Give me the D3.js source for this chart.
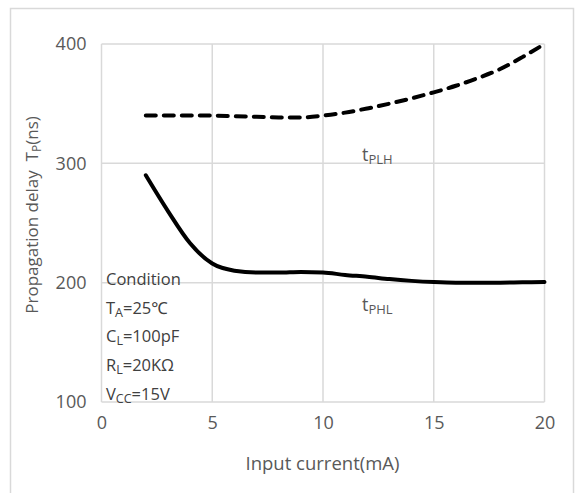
<!DOCTYPE html>
<html>
<head>
<meta charset="utf-8">
<script src="https://cdn.jsdelivr.net/npm/d3@7"></script>
<style>
  html, body { margin: 0; padding: 0; background: #fff; }
  svg { display: block; font-family: "Open Sans", "Noto Sans", sans-serif; }
</style>
</head>
<body>
<svg id="chart" width="575" height="493"></svg>
<script>
// ---- data ----
const xTicks = [0, 5, 10, 15, 20];
const yTicks = [100, 200, 300, 400];
const current = [2, 3, 4, 5, 6, 7, 8, 9, 10, 11, 12, 13, 14, 15, 16, 17, 18, 19, 20];
const tPLH = [340, 340, 340, 340, 339.5, 339, 338.5, 338.5, 340, 342.5, 346, 350, 354.5, 359.5, 365, 371.5, 379, 389, 400];
const tPHL = [290, 260, 233, 216, 210, 208.5, 208.5, 209, 208.5, 206.5, 205, 203, 201.5, 200.5, 200, 200, 200, 200.3, 200.5];
const conditionLines = [
  [["Condition", false]],
  [["T", false], ["A", true], ["=25℃", false]],
  [["C", false], ["L", true], ["=100pF", false]],
  [["R", false], ["L", true], ["=20KΩ", false]],
  [["V", false], ["CC", true], ["=15V", false]]
];

const svg = d3.select("#chart");
const x = d3.scaleLinear().domain([0, 20]).range([101.5, 544.5]);
const y = d3.scaleLinear().domain([100, 400]).range([402, 44]);

// outer border
svg.append("rect").attr("x", 10.5).attr("y", 8.5).attr("width", 563).attr("height", 500)
  .attr("fill", "none").attr("stroke", "#d9d9d9").attr("stroke-width", 1.5);

// gridlines
const grid = svg.append("g").attr("stroke", "#d9d9d9").attr("stroke-width", 1.5);
grid.selectAll("line.v").data(xTicks).join("line").attr("class", "v")
  .attr("x1", d => x(d)).attr("x2", d => x(d)).attr("y1", y(100)).attr("y2", y(400));
grid.selectAll("line.h").data(yTicks).join("line").attr("class", "h")
  .attr("y1", d => y(d)).attr("y2", d => y(d)).attr("x1", x(0)).attr("x2", x(20));

// axes (labels only)
const xAxis = svg.append("g").attr("transform", `translate(0,${y(100)})`)
  .call(d3.axisBottom(x).tickValues(xTicks).tickSize(0).tickPadding(14));
const yAxis = svg.append("g").attr("transform", `translate(${x(0)},0)`)
  .call(d3.axisLeft(y).tickValues(yTicks).tickSize(0).tickPadding(15));
[xAxis, yAxis].forEach(a => {
  a.select(".domain").remove();
  a.selectAll("text").attr("fill", "#595959").style("font-size", "18px")
    .style("font-family", "'Open Sans', 'Noto Sans', sans-serif");
});

// lines
const line = d3.line().x(d => x(d[0])).y(d => y(d[1])).curve(d3.curveMonotoneX);
svg.append("path").datum(current.map((c, i) => [c, tPLH[i]]))
  .attr("d", line).attr("fill", "none").attr("stroke", "#000").attr("stroke-width", 4)
  .attr("stroke-dasharray", "10,8").attr("stroke-linecap", "round");
svg.append("path").datum(current.map((c, i) => [c, tPHL[i]]))
  .attr("d", line).attr("fill", "none").attr("stroke", "#000").attr("stroke-width", 4)
  .attr("stroke-linecap", "round");

// helper for text with subscripts
function richText(g, parts, sizeMain, sizeSub) {
  parts.forEach(([t, sub]) => {
    const ts = g.append("tspan").text(t).style("font-size", (sub ? sizeSub : sizeMain) + "px");
    if (sub) ts.attr("baseline-shift", "-25%");
  });
}

// axis titles
const yt = svg.append("text").attr("transform", "translate(38,215) rotate(-90)")
  .attr("text-anchor", "middle").attr("fill", "#595959");
richText(yt, [["Propagation delay\u00a0\u00a0T", false], ["P", true], ["(ns)", false]], 17, 12);

svg.append("text").attr("x", 322.5).attr("y", 470).attr("text-anchor", "middle")
  .attr("fill", "#595959").style("font-size", "18.5px").text("Input current(mA)");

// series labels
const l1 = svg.append("text").attr("x", 362).attr("y", 161).attr("fill", "#595959");
richText(l1, [["t", false], ["PLH", true]], 18, 13);
const l2 = svg.append("text").attr("x", 362).attr("y", 311).attr("fill", "#595959");
richText(l2, [["t", false], ["PHL", true]], 18, 13);

// condition block
conditionLines.forEach((parts, i) => {
  const t = svg.append("text").attr("x", 106).attr("y", 285 + i * 28.7).attr("fill", "#404040");
  richText(t, parts, 16.5, 12.5);
});
</script>
</body>
</html>
